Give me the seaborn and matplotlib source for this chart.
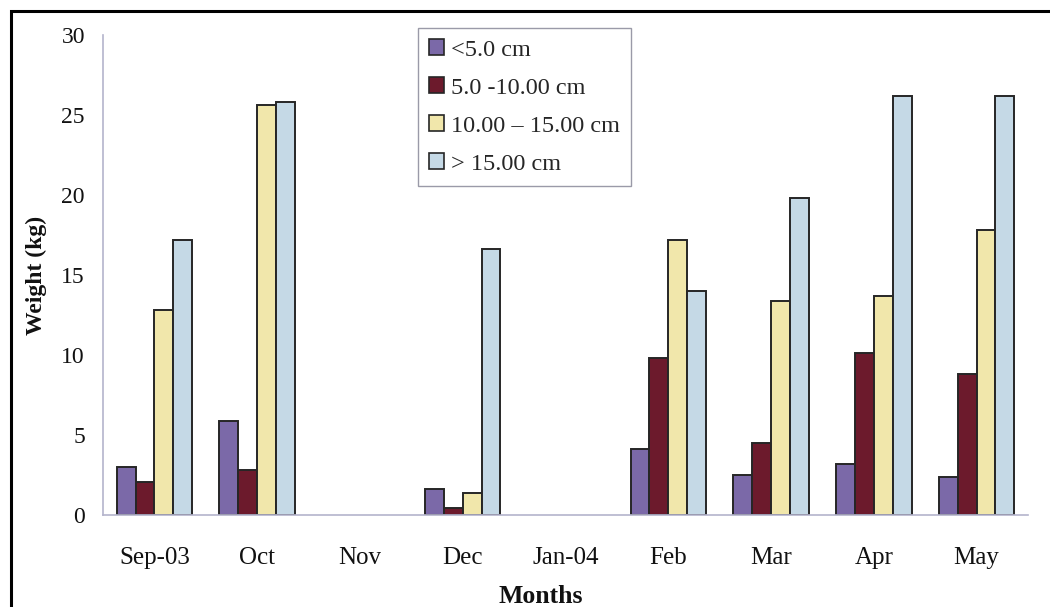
import numpy as np
import pandas as pd
import matplotlib
matplotlib.use("Agg")
import matplotlib.pyplot as plt
from matplotlib.patches import Rectangle
from matplotlib.ticker import FixedLocator
import seaborn as sns

# Monthly catch weight by size class
months = ["Sep-03", "Oct", "Nov", "Dec", "Jan-04", "Feb", "Mar", "Apr", "May"]
size_classes = ["<5.0 cm", "5.0 -10.00 cm", "10.00 \u2013 15.00 cm", "> 15.00 cm"]
under_5 = [3.0, 5.9, 0.0, 1.6, 0.0, 4.1, 2.5, 3.2, 2.4]
from_5_to_10 = [2.05, 2.8, 0.0, 0.45, 0.0, 9.8, 4.5, 10.1, 8.8]
from_10_to_15 = [12.8, 25.6, 0.0, 1.4, 0.0, 17.2, 13.4, 13.7, 17.8]
over_15 = [17.2, 25.8, 0.0, 16.6, 0.0, 14.0, 19.8, 26.2, 26.2]
y_ticks = [0, 5, 10, 15, 20, 25, 30]

colors = ["#7b69a8", "#6c1a2c", "#f1e7ab", "#c5d9e6"]
axis_color = "#b4b4cc"
text_color = "#111111"

df = pd.DataFrame({
    "month": months * 4,
    "size": np.repeat(size_classes, len(months)),
    "weight": under_5 + from_5_to_10 + from_10_to_15 + over_15,
})

sns.set_theme(style="white")
plt.rcParams["font.family"] = ["Liberation Serif", "DejaVu Serif"]

fig = plt.figure(figsize=(10.5, 6.07), dpi=100)
ax = fig.add_axes([103 / 1050, 1 - 515 / 607, (1028 - 103) / 1050, (515 - 35) / 607])

sns.barplot(data=df, x="month", y="weight", hue="size", order=months,
            hue_order=size_classes, palette=colors, width=0.735,
            edgecolor="#262626", linewidth=1.4, saturation=1, ax=ax)

# empty months show no bars at all
for p in ax.patches:
    if p.get_height() == 0:
        p.set_linewidth(0)

ax.set_xlim(-0.5, len(months) - 0.5)
ax.set_ylim(0, 30)
ax.set_yticks(y_ticks)
ax.set_yticklabels([str(t) for t in y_ticks], fontsize=17)
ax.set_xticks(range(len(months)))
ax.set_xticklabels(months, fontsize=18)
ax.xaxis.set_minor_locator(FixedLocator(np.arange(-0.5, len(months), 1.0)))
ax.tick_params(axis="x", which="major", length=0, pad=23)
ax.tick_params(axis="x", which="minor", length=7, width=1, color=axis_color, direction="out")
ax.tick_params(axis="y", which="major", length=8, width=1, color=axis_color, direction="out", pad=5)
for t in ax.get_xticklabels() + ax.get_yticklabels():
    t.set_color(text_color)

for side in ["top", "right"]:
    ax.spines[side].set_visible(False)
for side in ["left", "bottom"]:
    ax.spines[side].set_color(axis_color)
    ax.spines[side].set_linewidth(1.2)

ax.set_xlabel("Months", fontsize=18.5, fontweight="bold", color=text_color)
ax.xaxis.set_label_coords((541 - 103) / 925, (515 - 585) / 480)
ax.set_ylabel("Weight (kg)", fontsize=17, fontweight="bold", labelpad=10, color=text_color)

leg = ax.legend(loc="upper left", bbox_to_anchor=((418 - 103) / 925, 1.014),
                fontsize=17.5, frameon=True, fancybox=False, framealpha=1,
                edgecolor="#9a9aa8", handlelength=0.6, handleheight=0.6,
                handletextpad=0.3, labelspacing=0.69, borderpad=0.45,
                borderaxespad=0)
leg.get_frame().set_linewidth(1.0)
for h in leg.legend_handles:
    h.set_edgecolor("#262626")
    h.set_linewidth(1.2)

# outer border around the whole chart
fig.patches.append(Rectangle((11 / 1050, -0.02), 1.05, 1 - 11 / 607 + 0.02,
                             transform=fig.transFigure, fill=False,
                             edgecolor="black", linewidth=2.2, clip_on=False))

fig.savefig("out.png", dpi=100)
